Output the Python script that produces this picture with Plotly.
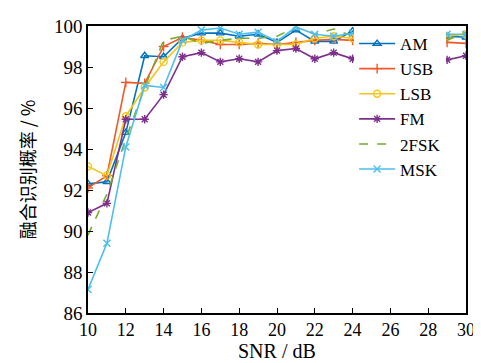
import plotly.graph_objects as go

snr = list(range(10, 31))

am   = [92.3, 92.4, 94.8, 98.55, 98.5, 99.4, 99.65, 99.65, 99.5, 99.6, 99.2, 99.8, 99.25, 99.25, 99.75, 99.65, 99.8, 99.6, 99.5, 99.5, 99.45]
usb  = [92.1, 92.7, 97.25, 97.2, 99.0, 99.45, 99.3, 99.1, 99.1, 99.15, 99.1, 99.2, 99.3, 99.35, 99.3, 99.3, 99.3, 99.25, 99.2, 99.2, 99.15]
lsb  = [93.15, 92.7, 95.6, 97.0, 98.25, 99.2, 99.3, 99.3, 99.2, 99.1, 99.1, 99.1, 99.4, 99.5, 99.4, 99.5, 99.5, 99.5, 99.5, 99.5, 99.6]
fm   = [90.9, 91.35, 95.45, 95.45, 96.65, 98.5, 98.7, 98.25, 98.4, 98.25, 98.8, 98.9, 98.4, 98.7, 98.4, 98.6, 98.6, 98.5, 98.4, 98.35, 98.55]
fsk2 = [89.8, 91.8, 94.5, 97.0, 99.3, 99.5, 99.15, 99.3, 99.4, 99.4, 99.5, 99.95, 99.6, 99.85, 99.5, 99.7, 99.9, 99.9, 99.9, 99.3, 99.7]
msk  = [87.15, 89.4, 94.1, 97.1, 97.0, 99.3, 99.8, 99.9, 99.6, 99.7, 99.25, 99.95, 99.6, 99.5, 99.65, 99.8, 99.7, 99.7, 99.6, 99.6, 99.6]

x_title = "SNR / dB"
y_title = "融合识别概率 / %"

series = [
    ("AM", am, "#0072BD", "triangle-up-open", "solid"),
    ("USB", usb, "#F05A2A", "cross-thin-open", "solid"),
    ("LSB", lsb, "#F5C518", "circle-open", "solid"),
    ("FM", fm, "#7E2F8E", "asterisk-open", "solid"),
    ("2FSK", fsk2, "#77AC30", None, "dash"),
    ("MSK", msk, "#4DBEEE", "x-thin-open", "solid"),
]

fig = go.Figure()
for name, ys, color, sym, dash in series:
    if sym is None:
        fig.add_trace(go.Scatter(x=snr, y=ys, name=name, mode="lines",
                                 line=dict(color=color, width=1.6, dash="dash")))
    else:
        fig.add_trace(go.Scatter(x=snr, y=ys, name=name, mode="lines+markers",
                                 line=dict(color=color, width=1.6, dash=dash),
                                 marker=dict(symbol=sym, size=7, color=color,
                                             line=dict(color=color, width=1.4))))

serif = "Liberation Serif"
fig.add_annotation(text=x_title, xref="paper", yref="paper", x=0.5, y=0,
                   xanchor="center", yanchor="bottom", yshift=-50, showarrow=False,
                   borderpad=0,
                   font=dict(family=serif, size=20, color="black"))

fig.update_layout(
    width=481, height=363,
    margin=dict(l=80, r=23, t=8, b=58),
    paper_bgcolor="white", plot_bgcolor="white",
    font=dict(family=serif, size=18, color="black"),
    showlegend=True,
    legend=dict(x=0.704, y=1.0, xanchor="left", yanchor="top",
                bgcolor="white", borderwidth=0, itemwidth=36,
                font=dict(family=serif, size=17, color="black"), tracegroupgap=0),
    xaxis=dict(range=[10, 30], dtick=2, tick0=10, showgrid=False, zeroline=False,
               showline=True, linecolor="black", linewidth=1.5, mirror=True,
               ticks="inside", ticklen=5, tickcolor="black",
               ticklabeloverflow="allow",
               tickfont=dict(family=serif, size=18, color="black")),
    yaxis=dict(range=[86, 100], dtick=2, tick0=86, showgrid=False, zeroline=False,
               showline=True, linecolor="black", linewidth=1.5, mirror=True,
               ticks="inside", ticklen=5, tickcolor="black",
               ticklabeloverflow="allow",
               tickfont=dict(family=serif, size=19, color="black"),
               title=dict(text=y_title, standoff=14,
                          font=dict(family="Noto Sans CJK SC", size=18, color="black"))),
)

fig.write_html("out.html")
